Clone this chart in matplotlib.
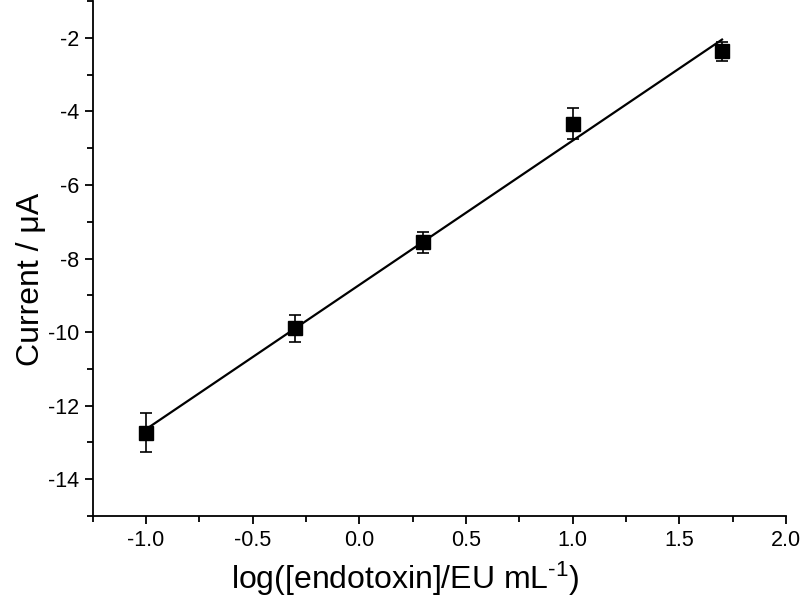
import numpy as np
import matplotlib
matplotlib.use("Agg")
import matplotlib.pyplot as plt
from matplotlib.ticker import MultipleLocator

plt.rcParams['font.family'] = ['Liberation Sans', 'DejaVu Sans']
plt.rcParams['mathtext.fontset'] = 'custom'
plt.rcParams['mathtext.rm'] = 'Liberation Sans'

log_conc = [-1.0, -0.3, 0.3, 1.0, 1.7]
current = [-12.74, -9.90, -7.56, -4.34, -2.37]
current_err = [0.53, 0.36, 0.29, 0.42, 0.26]

slope, intercept = np.polyfit(log_conc, current, 1)
xfit = np.array([min(log_conc), max(log_conc)])
yfit = slope * xfit + intercept

fig = plt.figure(figsize=(8.0, 5.97), dpi=100)
ax = fig.add_axes([0.116, 0.1357, 0.8665, 0.8625])

ax.plot(xfit, yfit, color='black', lw=1.6, zorder=2)
ax.errorbar(log_conc, current, yerr=current_err, fmt='s', color='black',
            markersize=10, ecolor='black', elinewidth=1.2, capsize=4.5,
            capthick=1.2, zorder=3)

ax.set_xlim(-1.25, 2.0)
ax.set_ylim(-15, -1)
ax.xaxis.set_minor_locator(MultipleLocator(0.25))
ax.yaxis.set_minor_locator(MultipleLocator(1))
ax.set_xticks([-1.0, -0.5, 0.0, 0.5, 1.0, 1.5, 2.0])
ax.set_xticklabels(['-1.0', '-0.5', '0.0', '0.5', '1.0', '1.5', '2.0'])
ax.set_yticks([-14, -12, -10, -8, -6, -4, -2])
ax.set_yticklabels(['-14', '-12', '-10', '-8', '-6', '-4', '-2'])

for s in ['top', 'right']:
    ax.spines[s].set_visible(False)
for s in ['left', 'bottom']:
    ax.spines[s].set_linewidth(1.3)

ax.tick_params(which='major', direction='out', length=6, width=1.3, labelsize=15.5, pad=4)
ax.tick_params(which='minor', direction='out', length=4, width=1.3)

ax.set_xlabel('log([endotoxin]/EU mL$\\mathregular{^{\\text{-}1}}$)', fontsize=23)
ax.xaxis.set_label_coords(0.45, -0.085, transform=ax.transAxes)
ax.set_ylabel('Current / μA', fontsize=23)
ax.yaxis.set_label_coords(-0.068, 0.46, transform=ax.transAxes)

fig.savefig('out.png', dpi=100)
